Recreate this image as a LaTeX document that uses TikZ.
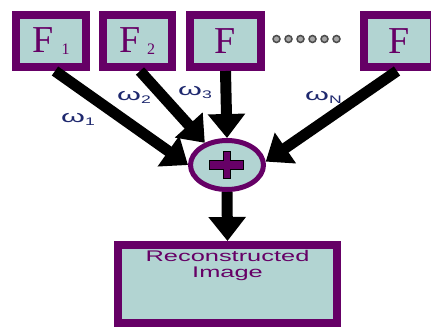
\documentclass[tikz,border=0pt]{standalone}
\usepackage{fontspec}
\setmainfont{Liberation Serif}
\newfontfamily\labfont{Liberation Sans}
\usetikzlibrary{arrows.meta,shapes.geometric,calc}
\definecolor{boxpurple}{RGB}{102,0,102}
\definecolor{boxteal}{RGB}{178,212,210}
\definecolor{labblue}{RGB}{30,40,110}
\newcommand{\wlab}[1]{{\labfont\scalebox{1.8}[1]{\fontsize{17}{17}\selectfont ω}\raisebox{-3pt}{\scalebox{1.6}[1]{\fontsize{11}{11}\selectfont #1}}}}
\begin{document}
\begin{tikzpicture}[x=1pt,y=-1pt,
  fbox/.style={draw=boxpurple,fill=boxteal,line width=8pt,minimum height=52pt,inner sep=0pt,text=boxpurple,font=\fontsize{38}{38}\selectfont},
  arr/.style={line width=11pt,-{Triangle[width=36pt,length=24pt]}},
  wl/.style={text=labblue,inner sep=0pt,anchor=base west},
  dotc/.style={circle,draw=black!70,fill=black!35,line width=1.5pt,minimum size=7pt,inner sep=0pt}
]
\clip (0,0) rectangle (431,327);
\node[fbox,minimum width=70pt] (f1) at (51,41) {F\hspace{8pt}\raisebox{-2pt}{\fontsize{16}{16}\selectfont 1}};
\node[fbox,minimum width=69pt] (f2) at (137.5,41) {F\hspace{6pt}\raisebox{-2pt}{\fontsize{16}{16}\selectfont 2}};
\node[fbox,minimum width=71pt] (f3) at (225.5,41) {F};
\node[fbox,minimum width=70pt] (fn) at (399,41) {F};
\foreach \i in {0,...,5}{\node[dotc] (d\i) at (276.5+12*\i,39) {};}
\node[ellipse,draw=boxpurple,fill=boxteal,line width=5pt,minimum width=73pt,minimum height=49pt,inner sep=0pt] (sum) at (227,165) {};
\draw[fill=boxpurple,line width=1pt] (209,160) -- (223,160) -- (223,151) -- (230,151) -- (230,160) -- (243,160) -- (243,169) -- (230,169) -- (230,178) -- (223,178) -- (223,169) -- (209,169) -- cycle;
\node[draw=boxpurple,fill=boxteal,line width=8pt,minimum width=219pt,minimum height=78pt,inner sep=0pt] (out) at (227.5,284) {};
\node[text=boxpurple,font=\labfont\fontsize{15.4}{16.5}\selectfont,align=center,anchor=north,inner sep=0pt] (outlbl) at (227.5,250) {\scalebox{1.65}[1]{Reconstructed}\\\scalebox{1.65}[1]{Image}};
\draw[arr] ($(f1.south)+(4,0)$) -- (sum.west);
\draw[arr] ($(f2.south)+(2.5,0)$) -- (sum.135);
\draw[arr] (f3.south) -- (sum.north);
\draw[arr] ($(fn.south)+(-2,0)$) -- (sum.5);
\draw[arr] (sum.south) -- (out.north);
\node[wl] (w1) at (61,122) {\wlab{1}};
\node[wl] (w2) at (117,100) {\wlab{2}};
\node[wl] (w3) at (178,95) {\wlab{3}};
\node[wl] (wn) at (305,100) {\wlab{N}};
\end{tikzpicture}
\end{document}
